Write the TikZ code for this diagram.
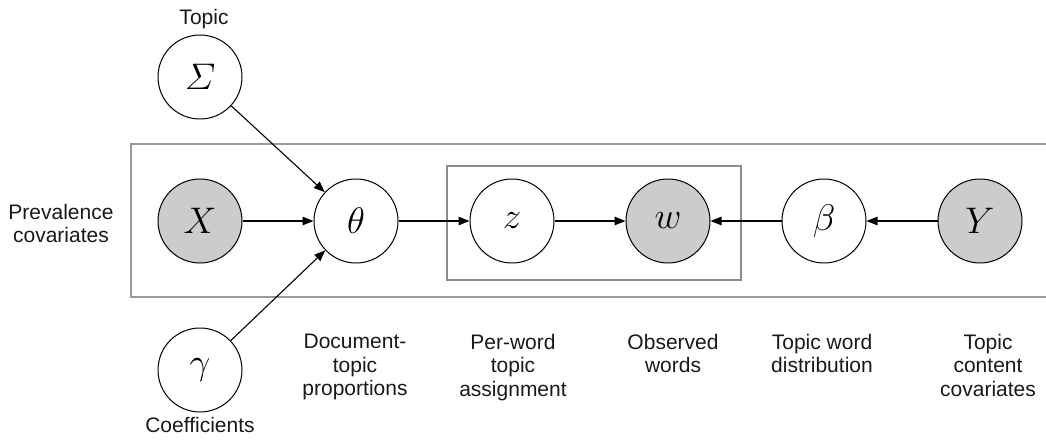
\RequirePackage{fix-cm}
\documentclass[tikz,border=0pt]{standalone}
\usepackage{amsmath}
\usepackage{fontspec}
\setmainfont{Liberation Sans}
\usetikzlibrary{arrows.meta}
\definecolor{obsgray}{HTML}{CCCCCC}
\definecolor{plategray}{HTML}{999999}
\definecolor{innergray}{HTML}{8C8C8C}
\tikzset{
  rv/.style={circle,draw=black,line width=1pt,minimum size=84pt,inner sep=0pt,fill=white,font=\fontsize{37}{37}\selectfont},
  obs/.style={fill=obsgray},
  lbl/.style={align=center,inner sep=0pt,anchor=north,font=\fontsize{21}{23.5}\selectfont,text=black!90},
  arr/.style={line width=1.1pt,-{Triangle[length=11pt,width=8.5pt]}},
  plate/.style={draw=plategray,line width=1.5pt},
  iplate/.style={draw=innergray,line width=1.3pt}
}
\begin{document}
\begin{tikzpicture}[x=1pt,y=-1pt]
\useasboundingbox (0,0) rectangle (1046,439);
\clip (0,0) rectangle (1046,439);
% plates
\draw[plate] (1060,144) -- (131,144) -- (131,297) -- (1060,297);
\draw[iplate] (447,166) rectangle (741,280);
% nodes
\node[rv] (S) at (200,77) {$\varSigma$};
\node[rv,obs] (X) at (200,221) {$X$};
\node[rv] (T) at (356,221) {$\theta$};
\node[rv] (G) at (200,370) {$\gamma$};
\node[rv] (Z) at (512,221) {$z$};
\node[rv,obs] (W) at (668,221) {$w$};
\node[rv] (B) at (824,221) {$\beta$};
\node[rv,obs] (Y) at (980,221) {$Y$};
% labels
\node[lbl] (lTopic) at (204,9) {Topic};
\node[lbl] (lCoef) at (200,417) {Coefficients};
\node[lbl] (lPrev) at (61,204) {Prevalence\\covariates};
\node[lbl] (lDoc) at (355,334) {Document-\\topic\\proportions};
\node[lbl] (lPer) at (513,334) {Per-word\\topic\\assignment};
\node[lbl] (lObs) at (673,334) {Observed\\words};
\node[lbl] (lTwd) at (822,334) {Topic word\\distribution};
\node[lbl] (lTcc) at (988,334) {Topic\\content\\covariates};
% edges
\draw[arr] (S) -- (T);
\draw[arr] (X) -- (T);
\draw[arr] (G) -- (T);
\draw[arr] (T) -- (Z);
\draw[arr] (Z) -- (W);
\draw[arr] (B) -- (W);
\draw[arr] (Y) -- (B);
\end{tikzpicture}
\end{document}
